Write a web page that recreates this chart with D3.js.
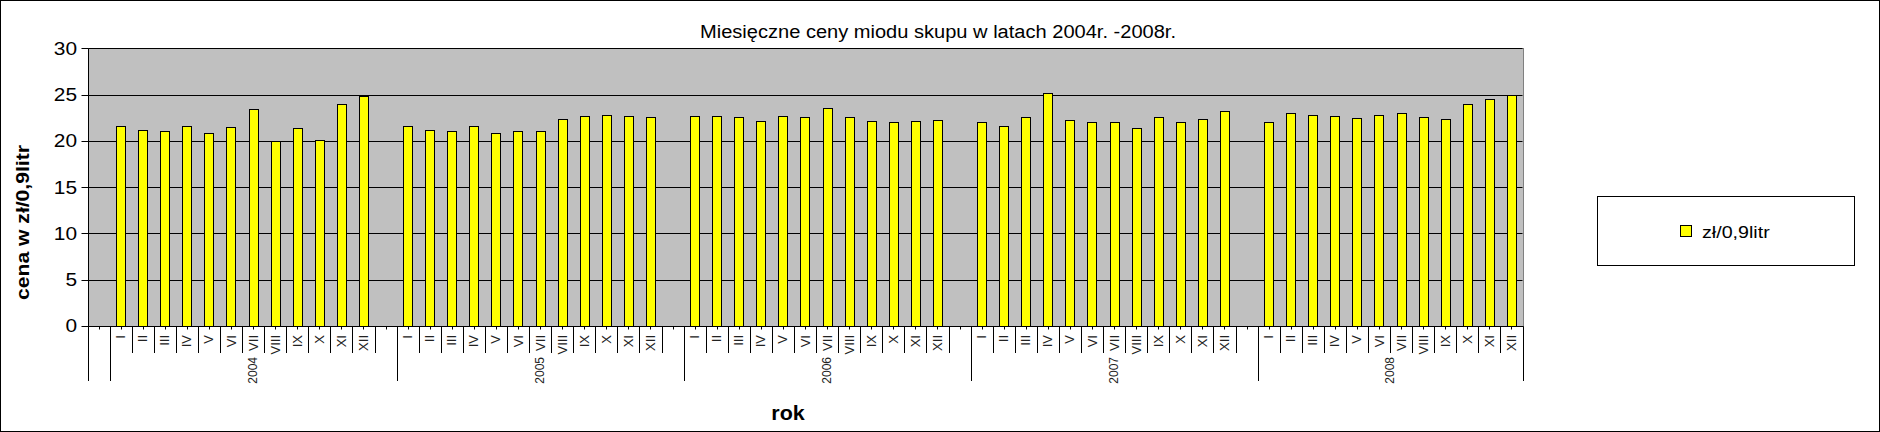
<!DOCTYPE html>
<html><head><meta charset="utf-8">
<script src="https://cdn.jsdelivr.net/npm/d3@7"></script>
<style>
body{margin:0;background:#fff}
svg{display:block}
text{font-family:"Liberation Sans",Arial,sans-serif;fill:#000}
</style>
</head><body>
<svg id="c" width="1880" height="432"></svg>
<script>
const chartTitle = "Miesięczne ceny miodu skupu w latach 2004r. -2008r.";
const yTitle = "cena w zł/0,9litr";
const xTitle = "rok";
const seriesName = "zł/0,9litr";
const years = ["2004", "2005", "2006", "2007", "2008"];
const months = ["I","II","III","IV","V","VI","VII","VIII","IX","X","XI","XII"];
const yTicks = [0, 5, 10, 15, 20, 25, 30];
const price2004 = [21.6, 21.2, 21.1, 21.6, 20.9, 21.5, 23.4, 20.0, 21.4, 20.1, 24.0, 24.9];
const price2005 = [21.6, 21.2, 21.1, 21.6, 20.9, 21.1, 21.1, 22.4, 22.7, 22.8, 22.7, 22.6];
const price2006 = [22.7, 22.7, 22.6, 22.1, 22.7, 22.6, 23.5, 22.6, 22.1, 22.0, 22.2, 22.3];
const price2007 = [22.0, 21.6, 22.6, 25.2, 22.3, 22.0, 22.0, 21.4, 22.6, 22.0, 22.4, 23.2];
const price2008 = [22.0, 23.0, 22.8, 22.7, 22.5, 22.8, 23.0, 22.6, 22.4, 24.0, 24.5, 25.0];
const prices = [price2004, price2005, price2006, price2007, price2008];

// category structure: leading blank, then each year's months followed by a blank slot
const cats = [];
const groups = [];
cats.push({key: "lead", month: "", value: null});
groups.push({label: "", keys: ["lead"]});
years.forEach((yr, i) => {
  const keys = [];
  months.forEach((m, j) => {
    const k = yr + "-" + m;
    keys.push(k);
    cats.push({key: k, month: m, value: prices[i][j]});
  });
  if (i < years.length - 1) {
    const k = yr + "-gap";
    keys.push(k);
    cats.push({key: k, month: "", value: null});
  }
  groups.push({label: yr, keys});
});

const svg = d3.select("#c");
const L = 87.5, R = 1522.5, T = 48.3, B = 326;
const x = d3.scaleBand().domain(cats.map(d => d.key)).range([L, R]);
const y = d3.scaleLinear().domain([0, 30]).range([B, T]);
const px = v => Math.round(v) + 0.5;

// outer frame
svg.append("rect").attr("x", 0.5).attr("y", 0.5).attr("width", 1879).attr("height", 431)
  .attr("fill", "#fff").attr("stroke", "#000");

// wall
svg.append("rect").attr("x", px(L)).attr("y", px(y(30)))
  .attr("width", px(R) - px(L)).attr("height", px(y(0)) - px(y(30)))
  .attr("fill", "#c0c0c0").attr("stroke", "#808080");

// gridlines
svg.append("g").selectAll("line").data(yTicks.filter(t => t > 0)).join("line")
  .attr("x1", px(L)).attr("x2", px(R) - 1)
  .attr("y1", d => px(y(d))).attr("y2", d => px(y(d)))
  .attr("stroke", "#000");

// bars
const barW = x.bandwidth() * 0.41;
svg.append("g").selectAll("rect").data(cats.filter(d => d.value !== null)).join("rect")
  .attr("x", d => Math.round(x(d.key) + x.bandwidth() / 2 - barW / 2) + 0.5)
  .attr("width", Math.round(barW))
  .attr("y", d => px(y(d.value)))
  .attr("height", d => px(y(0)) - px(y(d.value)))
  .attr("fill", "#ffff00").attr("stroke", "#000");

// y axis
const ya = svg.append("g");
ya.append("line").attr("x1", px(L)).attr("x2", px(L)).attr("y1", px(y(30))).attr("y2", px(y(0))).attr("stroke", "#000");
ya.selectAll("line.t").data(yTicks).join("line").attr("class", "t")
  .attr("x1", px(L) - 7).attr("x2", px(L)).attr("y1", d => px(y(d))).attr("y2", d => px(y(d))).attr("stroke", "#000");
ya.selectAll("text").data(yTicks).join("text")
  .attr("transform", d => `translate(77,${y(d)}) scale(1.13,1)`)
  .attr("text-anchor", "end").attr("dy", "0.35em")
  .style("font-size", "18.5px").text(d => d);

// x axis
const xa = svg.append("g");
xa.append("line").attr("x1", px(L)).attr("x2", px(R)).attr("y1", px(B)).attr("y2", px(B)).attr("stroke", "#000");
// center ticks
xa.selectAll("line.c").data(cats).join("line").attr("class", "c")
  .attr("x1", d => px(x(d.key) + x.bandwidth() / 2)).attr("x2", d => px(x(d.key) + x.bandwidth() / 2))
  .attr("y1", px(B)).attr("y2", px(B) + 3).attr("stroke", "#000");
// category separators
const groupStarts = new Set(groups.map(g => g.keys[0]));
xa.selectAll("line.s").data(cats).join("line").attr("class", "s")
  .attr("x1", d => px(x(d.key))).attr("x2", d => px(x(d.key)))
  .attr("y1", px(B)).attr("y2", d => groupStarts.has(d.key) ? 381 : 353)
  .attr("stroke", "#000");
xa.append("line").attr("x1", px(R)).attr("x2", px(R)).attr("y1", px(B)).attr("y2", 381).attr("stroke", "#000");

// month labels
xa.selectAll("text.m").data(cats.filter(d => d.month)).join("text").attr("class", "m")
  .attr("transform", d => `translate(${x(d.key) + x.bandwidth() / 2},335) rotate(-90)`)
  .attr("text-anchor", "end").attr("dominant-baseline", "central")
  .style("font-size", "13px").style("fill", "#222").text(d => d.month);

// year labels
xa.selectAll("text.y").data(groups.filter(g => g.label)).join("text").attr("class", "y")
  .attr("transform", g => {
    const a = x(g.keys[0]), b = x(g.keys[g.keys.length - 1]) + x.bandwidth();
    return `translate(${(a + b) / 2},357) rotate(-90)`;
  })
  .attr("text-anchor", "end").attr("dominant-baseline", "central")
  .style("font-size", "12px").style("fill", "#222").text(g => g.label);

// title
svg.append("text").attr("x", 938).attr("y", 37.7).attr("text-anchor", "middle")
  .attr("textLength", 476).attr("lengthAdjust", "spacingAndGlyphs")
  .style("font-size", "18px").text(chartTitle);

// axis titles
svg.append("text").attr("transform", "translate(29,222.5) rotate(-90)")
  .attr("text-anchor", "middle").attr("textLength", 155).attr("lengthAdjust", "spacingAndGlyphs")
  .style("font-size", "19px").style("font-weight", "bold").text(yTitle);
svg.append("text").attr("x", 788).attr("y", 420).attr("text-anchor", "middle")
  .attr("textLength", 33.5).attr("lengthAdjust", "spacingAndGlyphs")
  .style("font-size", "21px").style("font-weight", "bold").text(xTitle);

// legend
const lg = svg.append("g");
lg.append("rect").attr("x", 1597.5).attr("y", 196.5).attr("width", 257).attr("height", 69)
  .attr("fill", "#fff").attr("stroke", "#000");
lg.append("rect").attr("x", 1680.5).attr("y", 225.5).attr("width", 11).attr("height", 11)
  .attr("fill", "#ffff00").attr("stroke", "#000");
lg.append("text").attr("x", 1702).attr("y", 237.5)
  .attr("textLength", 67.7).attr("lengthAdjust", "spacingAndGlyphs")
  .style("font-size", "16.5px").text(seriesName);
</script>
</body></html>
